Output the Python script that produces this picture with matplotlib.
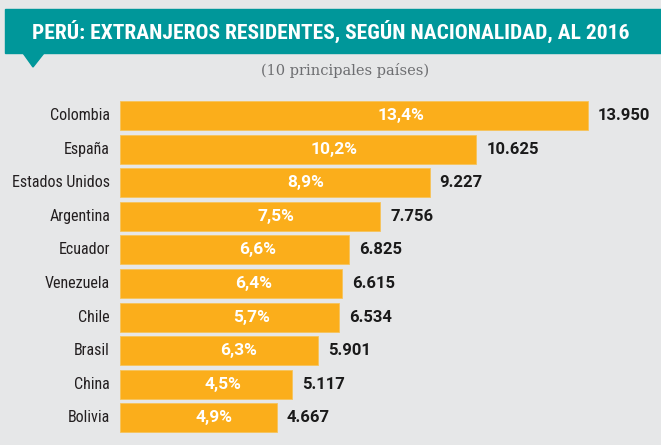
import matplotlib.pyplot as plt
from matplotlib.patches import Rectangle, Polygon
from matplotlib import font_manager

paises = ["Colombia", "España", "Estados Unidos", "Argentina", "Ecuador",
          "Venezuela", "Chile", "Brasil", "China", "Bolivia"]
residentes = [13950, 10625, 9227, 7756, 6825, 6615, 6534, 5901, 5117, 4667]
porcentajes = ["13,4%", "10,2%", "8,9%", "7,5%", "6,6%",
               "6,4%", "5,7%", "6,3%", "4,5%", "4,9%"]

titulo = "PERÚ: EXTRANJEROS RESIDENTES, SEGÚN NACIONALIDAD, AL 2016"
subtitulo = "(10 principales países)"

fondo = "#e6e7e8"
naranja = "#fbae1b"
verde = "#00979a"

# buscar una fuente estrecha
fuentes = font_manager.fontManager.ttflist
nombres = {f.name for f in fuentes}
estrecha, stretch = "Roboto", "normal"
for cand in ["Roboto Condensed", "Liberation Sans Narrow", "Open Sans Condensed"]:
    if cand in nombres:
        estrecha = cand
        break
else:
    if any(f.name == "DejaVu Sans" and f.stretch == "condensed" for f in fuentes):
        estrecha, stretch = "DejaVu Sans", "condensed"

W, H = 661, 445
fig = plt.figure(figsize=(W / 100, H / 100), dpi=100)
fig.patch.set_facecolor(fondo)
renderer = fig.canvas.get_renderer()


def fx(px):
    return px / W


def fy(py):
    return 1 - py / H


def ajustar(t, ancho):
    # ajusta el tamaño para que el texto tenga el ancho dado (px)
    w = t.get_window_extent(renderer).width
    t.set_fontsize(t.get_fontsize() * ancho / w)


# banner del titulo
fig.patches.append(Rectangle((fx(5), fy(53)), fx(661) - fx(5), fy(9) - fy(53),
                             transform=fig.transFigure, color=verde, zorder=0))
fig.patches.append(Polygon([(fx(23), fy(53)), (fx(44), fy(53)), (fx(33), fy(67))],
                           closed=True, transform=fig.transFigure, color=verde, zorder=0))
t = fig.text(fx(331), fy(31), titulo, ha="center", va="center", color="white",
             fontsize=20, fontweight="bold", family=estrecha, fontstretch=stretch)
ajustar(t, 595)
fig.text(fx(345), fy(71), subtitulo, ha="center", va="center", color="#6d6e71",
         fontsize=10.5, family="DejaVu Serif")

# barras
top, bottom = 98.7, 434.7
ax = fig.add_axes([fx(120), fy(bottom), fx(661) - fx(120), (bottom - top) / H])
ax.set_facecolor(fondo)
y = list(range(len(paises)))
ax.barh(y, residentes, height=0.86, color=naranja, edgecolor="#f7c45a", linewidth=0.6)
xmax = 13950 * 541 / 468
ax.set_xlim(0, xmax)
ax.set_ylim(len(paises) - 0.5, -0.5)
ax.axis("off")

etiquetas = []
for i, (p, v, pct) in enumerate(zip(paises, residentes, porcentajes)):
    etiquetas.append(ax.text(-xmax * 0.0185, i, p, ha="right", va="center",
                             fontsize=12, color="#231f20", family=estrecha,
                             fontstretch=stretch))
    ax.text(v * 0.6, i, pct, ha="center", va="center", fontsize=12.5,
            fontweight="bold", color="white", family="Roboto")
    ax.text(v + 300, i, f"{v:,}".replace(",", "."), ha="left", va="center",
            fontsize=12, fontweight="bold", color="#1a1a1a", family="Roboto")

# "Estados Unidos" mide unos 98 px en la referencia
w = etiquetas[2].get_window_extent(renderer).width
for e in etiquetas:
    e.set_fontsize(min(12.5, 12 * 98 / w))

fig.savefig("out.png", dpi=100, facecolor=fondo)
